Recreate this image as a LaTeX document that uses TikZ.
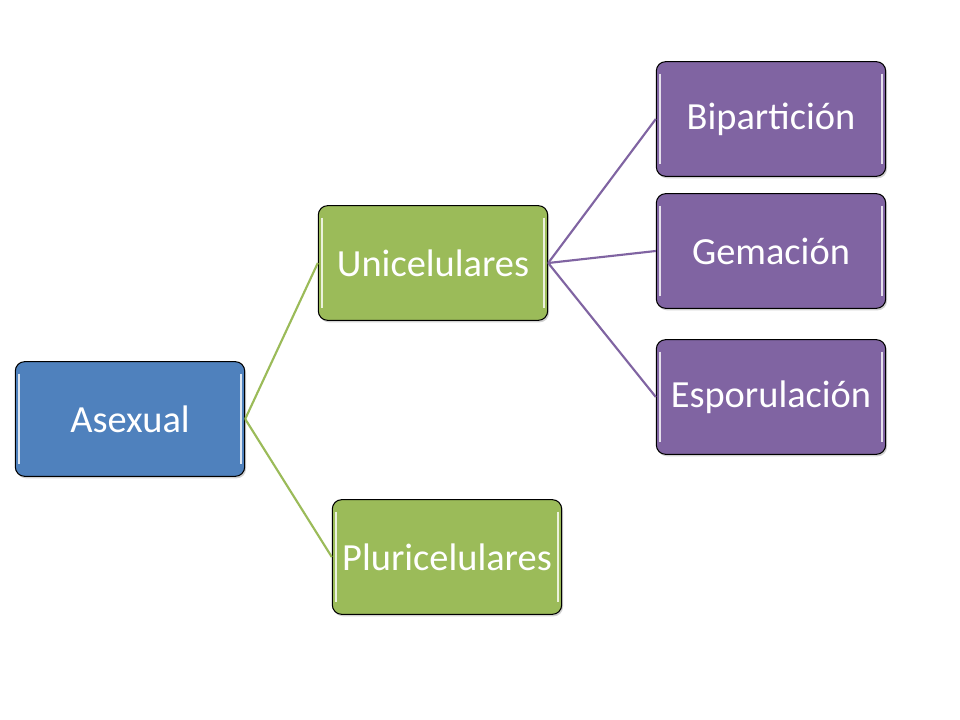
\documentclass[tikz,border=0pt]{standalone}
\usepackage{fontspec}
\setmainfont{Carlito}
\usetikzlibrary{shadows}
\definecolor{cblue}{HTML}{4F81BD}
\definecolor{cgreen}{HTML}{9BBB59}
\definecolor{cpurple}{HTML}{8064A2}
\tikzset{
  box/.style={draw=black, line width=0.8pt, rounded corners=7pt,
    minimum width=172pt, minimum height=86pt, inner sep=0pt,
    text=white, font=\fontsize{28.8}{32}\selectfont,
    drop shadow={shadow xshift=1pt, shadow yshift=-1.5pt, opacity=0.35},
    path picture={
      \draw[white, opacity=0.8, line width=1.3pt]
        ([xshift=3pt,yshift=-9pt]path picture bounding box.north west) --
        ([xshift=3pt,yshift=9pt]path picture bounding box.south west);
      \draw[white, opacity=0.8, line width=1.3pt]
        ([xshift=-3pt,yshift=-9pt]path picture bounding box.north east) --
        ([xshift=-3pt,yshift=9pt]path picture bounding box.south east);
    }},
  bluebox/.style={box, fill=cblue},
  greenbox/.style={box, fill=cgreen},
  purplebox/.style={box, fill=cpurple},
  gline/.style={draw=cgreen, line width=1.6pt},
  pline/.style={draw=cpurple, line width=1.6pt},
}
\begin{document}
\begin{tikzpicture}[x=0.75pt, y=-0.75pt]
\useasboundingbox[fill=white] (0,0) rectangle (960,720);
\node[bluebox] (asex) at (130,419) {Asexual};
\node[greenbox] (uni) at (433,263) {Unicelulares};
\node[greenbox] (pluri) at (447,557) {Pluricelulares};
\node[purplebox] (bip) at (771,119) {Bipartición};
\node[purplebox] (gem) at (771,251) {Gemación};
\node[purplebox] (esp) at (771,397) {Esporulación};
\path[gline] (asex.east) -- (uni.west);
\path[gline] (asex.east) -- (pluri.west);
\path[pline] (uni.east) -- (bip.west);
\path[pline] (uni.east) -- (gem.west);
\path[pline] (uni.east) -- (esp.west);
\end{tikzpicture}
\end{document}
